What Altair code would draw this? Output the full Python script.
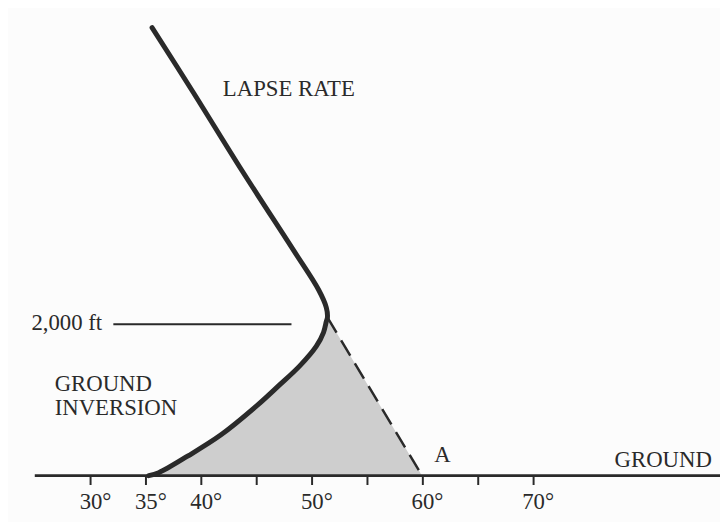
import altair as alt
import pandas as pd

# ---- data (temperature in degrees F, height in feet) ----
inv_temp = [35.3, 36.2, 38.85, 41.8, 45.1, 47.05, 48.95, 50.45, 51.1, 51.35, 51.45]
inv_height = [0, 39, 261, 536, 928, 1189, 1451, 1712, 1895, 2039, 2091]
lapse_temp = [51.35, 50.65, 48.38, 43.75, 39.3, 35.6]
lapse_height = [2222, 2457, 2980, 4026, 5071, 5921]
dash_temp = [51.45, 60]
dash_height = [2091, 0]
ground_temp = [25.0, 87.0]
level_temp = [32.1, 48.2]
level_height = [2000, 2000]
tick_values = [30, 35, 40, 45, 50, 55, 60, 65, 70]
labeled_ticks = [30, 35, 40, 50, 60, 70]

FONT = "Liberation Serif"
INK = "#2a2a2a"

xs = alt.Scale(domain=[22.58, 86.93], nice=False, zero=False)
ys = alt.Scale(domain=[-575, 6143], nice=False, zero=False)

curve_df = pd.DataFrame({
    "temp": inv_temp + lapse_temp,
    "height": inv_height + lapse_height,
})
curve_df["order"] = range(len(curve_df))

shade_df = pd.DataFrame({
    "temp": inv_temp + [dash_temp[1]],
    "height": inv_height + [dash_height[1]],
})
dash_df = pd.DataFrame({"temp": dash_temp, "height": dash_height})
ground_df = pd.DataFrame({"temp": ground_temp, "height": [0, 0]})
level_df = pd.DataFrame({"temp": level_temp, "height": level_height})

label_list = "[" + ",".join(str(v) for v in labeled_ticks) + "]"
x_axis = alt.Axis(
    values=tick_values,
    labelExpr=f"indexof({label_list}, datum.value) >= 0 ? datum.value + '°' : ''",
    domain=False, grid=False, ticks=True, tickSize=9, tickWidth=2,
    tickColor=INK, offset=-44, title=None, labelFont=FONT, labelFontSize=23,
    labelColor=INK, labelPadding=6, labelAngle=0, labelOffset=5,
)

base_x = alt.X("temp:Q", scale=xs, axis=x_axis)
base_y = alt.Y("height:Q", scale=ys, axis=None)

shade = alt.Chart(shade_df).mark_area(color="#cecece", opacity=1).encode(
    x=base_x, y=base_y, y2=alt.datum(0)
)

ground = alt.Chart(ground_df).mark_line(color=INK, strokeWidth=3, clip=True).encode(
    x=alt.X("temp:Q", scale=xs), y=alt.Y("height:Q", scale=ys)
)

curve = alt.Chart(curve_df).mark_line(
    color=INK, strokeWidth=5, interpolate="catmull-rom", strokeCap="round"
).encode(
    x=alt.X("temp:Q", scale=xs), y=alt.Y("height:Q", scale=ys), order="order:Q"
)

dash = alt.Chart(dash_df).mark_line(color=INK, strokeWidth=2.5, strokeDash=[18, 9]).encode(
    x=alt.X("temp:Q", scale=xs), y=alt.Y("height:Q", scale=ys)
)

level = alt.Chart(level_df).mark_line(color=INK, strokeWidth=2).encode(
    x=alt.X("temp:Q", scale=xs), y=alt.Y("height:Q", scale=ys)
)


def label(text, t, h, size=23):
    return alt.Chart(pd.DataFrame({"t": [text]})).mark_text(
        font=FONT, fontSize=size, color=INK, align="left", baseline="middle"
    ).encode(x=alt.datum(t, scale=xs), y=alt.datum(h, scale=ys), text="t:N")


texts = [
    label("LAPSE RATE", 42.0, 5110),
    label("2,000 ft", 24.7, 2020),
    label("GROUND", 26.8, 1215),
    label("INVERSION", 26.8, 889),
    label("A", 61.1, 274),
    label("GROUND", 77.4, 209),
]

chart = alt.layer(shade, ground, dash, level, curve, *texts).properties(
    width=720, height=514, padding=0, autosize=alt.AutoSizeParams(type="none"),
    background="#fcfcfc",
).configure_view(stroke=None)

chart.save("out.html", embed_options={"renderer": "svg", "actions": False})
